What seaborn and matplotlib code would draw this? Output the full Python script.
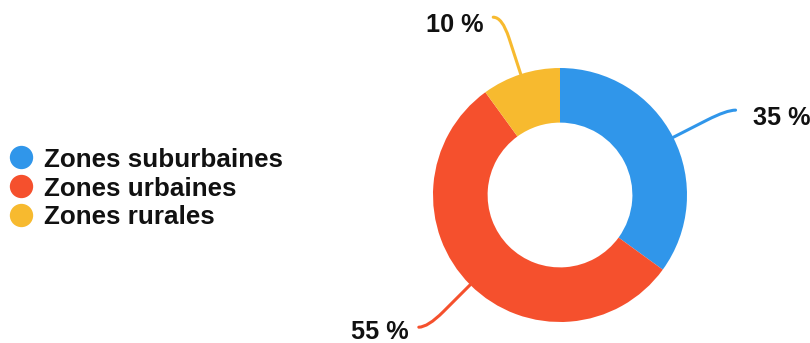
import matplotlib
matplotlib.use("Agg")
import matplotlib.pyplot as plt
from matplotlib.path import Path
from matplotlib.patches import PathPatch
from matplotlib.lines import Line2D
import numpy as np
import seaborn as sns

# ---- data ----
categories = ["Zones suburbaines", "Zones urbaines", "Zones rurales"]
values = [35, 55, 10]
labels = ["35 %", "55 %", "10 %"]
colors = ["#3096EA", "#F5502D", "#F7BA2F"]

sns.set_theme(style="white")
plt.rcParams["font.family"] = ["Liberation Sans", "DejaVu Sans"]

W, H = 810, 343
fig = plt.figure(figsize=(W / 100, H / 100), dpi=100)
ax = fig.add_axes([0, 0, 1, 1])

S = 127.0            # pixels per data unit (outer radius)
cx, cy = 560.0, 195.0  # donut centre in pixels (y from top)

wedges, _ = ax.pie(values, colors=sns.color_palette(colors), startangle=90,
                   counterclock=False, radius=1.0,
                   wedgeprops=dict(width=0.43, linewidth=0, edgecolor="none"))

ax.set_xlim(-cx / S, (W - cx) / S)
ax.set_ylim(-(H - cy) / S, cy / S)
ax.set_aspect("equal")
ax.axis("off")

# ---- leader lines and labels ----
r_bend, r_corner, ext = 1.30, 1.472, 9 / S
for w, lab, col in zip(wedges, labels, colors):
    th = np.deg2rad((w.theta1 + w.theta2) / 2)
    c, s = np.cos(th), np.sin(th)
    side = 1 if c > 0 else -1
    p0 = (c, s)
    pa = (c * r_bend, s * r_bend)
    pc = (c * r_corner, s * r_corner)
    pe = (pc[0] + side * ext, pc[1])
    path = Path([p0, pa, pc, pe],
                [Path.MOVETO, Path.LINETO, Path.CURVE3, Path.CURVE3])
    ax.add_patch(PathPatch(path, fill=False, edgecolor=col, lw=2.2,
                           capstyle="round", joinstyle="round", zorder=1))
    gap = (17 if side > 0 else 10) / S
    dy = (15 if s > 0 else 12) / S
    ax.text(pe[0] + side * gap, pe[1] - dy, lab,
            ha="left" if side > 0 else "right", va="baseline",
            fontsize=18.2, fontweight="bold", color="#111111")

# ---- legend ----
handles = [Line2D([0], [0], marker="o", linestyle="none", markersize=16.8,
                  markerfacecolor=col, markeredgecolor="none")
           for col in colors]
fs = 18.7
fs_px = fs * 100 / 72
leg = fig.legend(handles, categories, loc="center left",
                 bbox_to_anchor=(9.0 / W, 1 - 188.5 / H),
                 bbox_transform=fig.transFigure,
                 frameon=False, borderpad=0, borderaxespad=0,
                 handlelength=0.9, handletextpad=(44 - 9 - 0.9 * fs_px) / fs_px,
                 labelspacing=0.19,
                 prop=dict(family="Liberation Sans", weight="bold", size=fs))
for t in leg.get_texts():
    t.set_color("#111111")

fig.savefig("out.png", dpi=100)
